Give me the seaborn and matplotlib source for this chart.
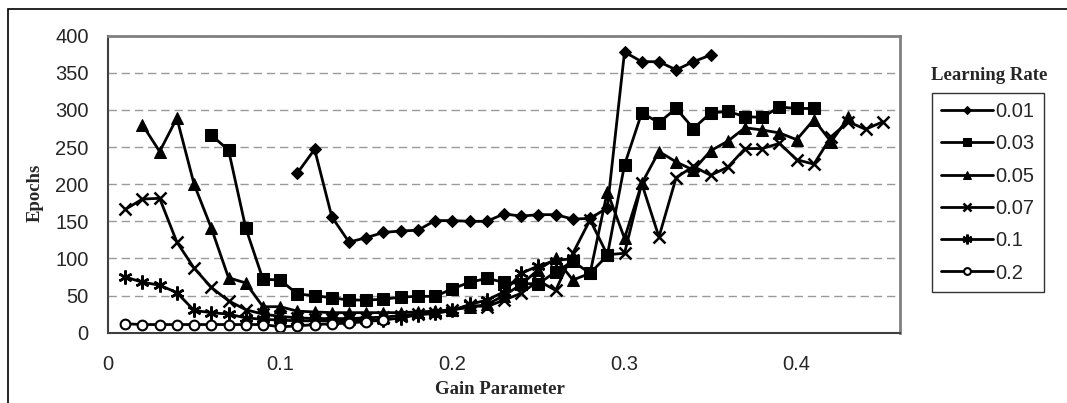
import numpy as np
import matplotlib
matplotlib.use("Agg")
import matplotlib.pyplot as plt
from matplotlib.patches import Rectangle
import seaborn as sns

# gain parameter grids (steps of 0.01) for each learning rate
gain_001 = np.round(np.arange(0.11, 0.355, 0.01), 2)
gain_003 = np.round(np.arange(0.06, 0.415, 0.01), 2)
gain_005 = np.round(np.arange(0.02, 0.435, 0.01), 2)
gain_007 = np.round(np.arange(0.01, 0.455, 0.01), 2)
gain_01 = np.round(np.arange(0.01, 0.275, 0.01), 2)
gain_02 = np.round(np.arange(0.01, 0.165, 0.01), 2)

# epochs
epochs_001 = [215, 247, 156, 122, 128, 135, 137, 138, 151, 151, 150, 150, 160,
              157, 159, 159, 153, 154, 168, 378, 365, 365, 354, 365, 374]
epochs_003 = [266, 246, 141, 72, 71, 52, 50, 47, 44, 44, 45, 48, 49, 49, 59,
              68, 73, 68, 66, 66, 82, 96, 80, 104, 226, 296, 283, 302, 275,
              296, 298, 291, 290, 304, 302, 302]
epochs_005 = [280, 244, 289, 200, 141, 74, 67, 35, 35, 29, 28, 27, 27, 27, 27,
              27, 28, 29, 31, 34, 38, 50, 65, 85, 100, 71, 80, 190, 127, 201,
              244, 230, 219, 245, 258, 276, 273, 269, 260, 287, 257, 290]
epochs_007 = [166, 180, 181, 122, 87, 61, 43, 31, 25, 22, 20, 19, 19, 19, 20,
              21, 23, 25, 27, 30, 37, 35, 44, 53, 70, 57, 107, 152, 105, 107,
              201, 129, 209, 224, 212, 223, 248, 248, 255, 233, 227, 264, 284,
              274, 284]
epochs_01 = [75, 68, 64, 54, 30, 27, 25, 20, 18, 17, 16, 16, 16, 16, 17, 17,
             20, 24, 26, 30, 38, 44, 55, 80, 90, 97, 100]
epochs_02 = [12, 11, 11, 11, 11, 11, 11, 11, 11, 8, 9, 11, 12, 13, 15, 17]

labels = ["0.01", "0.03", "0.05", "0.07", "0.1", "0.2"]

series = [
    (gain_001, epochs_001, dict(marker="D", markersize=6.5, markerfacecolor="black")),
    (gain_003, epochs_003, dict(marker="s", markersize=8, markerfacecolor="black")),
    (gain_005, epochs_005, dict(marker="^", markersize=8, markerfacecolor="black")),
    (gain_007, epochs_007, dict(marker="x", markersize=9, markeredgewidth=1.8)),
    (gain_01, epochs_01, dict(marker=(6, 2, 0), markersize=10, markeredgewidth=1.8)),
    (gain_02, epochs_02, dict(marker="o", markersize=7, markerfacecolor="white",
                              markeredgewidth=1.5)),
]

sns.set_style("white")
plt.rcParams['font.family'] = ['Liberation Sans', 'DejaVu Sans']

fig = plt.figure(figsize=(10.67, 4.03), dpi=100)
ax = fig.add_axes([108 / 1067, 1 - 332.7 / 403, 792 / 1067, 297 / 403])

for (gx, gy, style), lab in zip(series, labels):
    sns.lineplot(x=gx, y=gy, ax=ax, color="black", linewidth=2,
                 markeredgecolor="black", label=lab, **style)

ax.set_xlim(0, 0.46)
ax.set_ylim(0, 400)
ax.set_xticks([0, 0.1, 0.2, 0.3, 0.4])
ax.set_xticklabels(["0", "0.1", "0.2", "0.3", "0.4"])
ax.set_yticks(range(0, 401, 50))
ax.tick_params(axis="both", labelsize=14.5, direction="out", length=5, width=1,
               color="#404040", pad=9)
ax.tick_params(axis="x", pad=11)
ax.yaxis.grid(True, color="#9a9a9a", linestyle=(0, (6, 3.5)), linewidth=1)
ax.set_axisbelow(True)

for side in ["top", "right"]:
    ax.spines[side].set_color("#808080")
    ax.spines[side].set_linewidth(2)
for side in ["left", "bottom"]:
    ax.spines[side].set_color("#404040")
    ax.spines[side].set_linewidth(1.5)

ax.set_xlabel("Gain Parameter", fontsize=13.5, fontweight="bold",
              family="Liberation Serif", va="center")
ax.set_ylabel("Epochs", fontsize=13.5, fontweight="bold",
              family="Liberation Serif", va="center")
ax.xaxis.set_label_coords(0.495, -0.19)
ax.yaxis.set_label_coords(-0.092, 0.47)

ax.get_legend().remove()
handles, leg_labels = ax.get_legend_handles_labels()
leg = fig.legend(handles, leg_labels, loc="upper left",
                 bbox_to_anchor=(932 / 1067, 1 - 93 / 403), borderaxespad=0,
                 fontsize=14.5, frameon=True, fancybox=False, edgecolor="black",
                 handlelength=2.6, handletextpad=0.1, labelspacing=0.66,
                 markerscale=0.7, borderpad=0.45)
leg.get_frame().set_linewidth(1)
fig.text(989 / 1067, 1 - 75 / 403, "Learning Rate", ha="center", va="center",
         fontsize=13.5, fontweight="bold", family="Liberation Serif")

# outer chart frame (left and top edges visible)
fig.patches.append(Rectangle((8 / 1067, -0.2), 1.2, 1.2 - 9 / 403,
                             transform=fig.transFigure, fill=False,
                             edgecolor="black", linewidth=1.2))

fig.savefig("out.png", dpi=100)
